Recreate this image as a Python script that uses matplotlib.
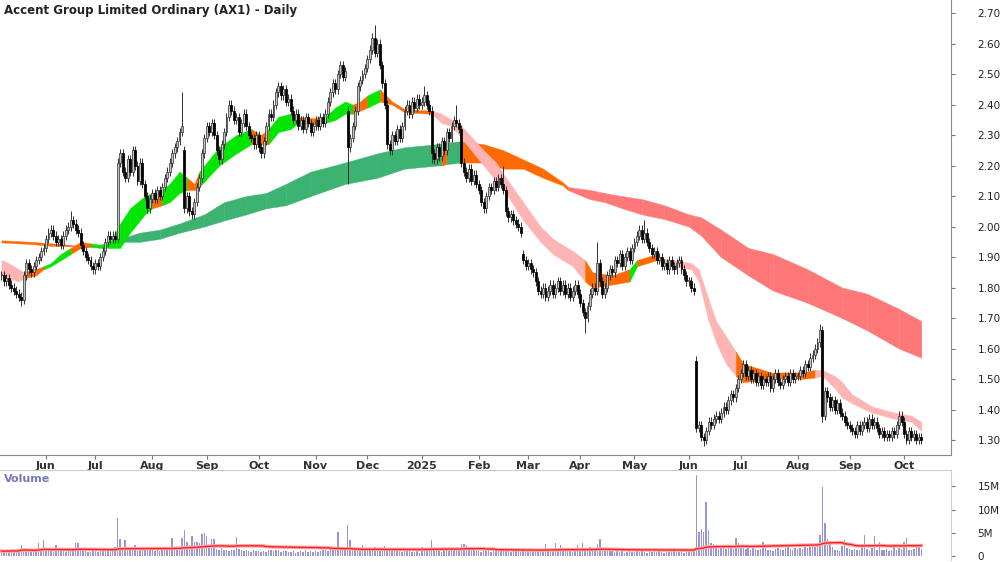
import numpy as np
import pandas as pd
import matplotlib
matplotlib.use('Agg')
import matplotlib.pyplot as plt

# trading days shown on the chart
dates = pd.bdate_range('2024-05-08', '2025-10-10')

# daily closes, one list per month
close_may24 = [1.84, 1.82, 1.83, 1.81, 1.80, 1.79, 1.78, 1.77, 1.76, 1.84, 1.88, 1.86, 1.85, 1.87, 1.89, 1.90, 1.92, 1.93]
close_jun24 = [1.96, 1.98, 1.99, 1.97, 1.95, 1.96, 1.94, 1.97, 1.99, 2.00, 2.02, 2.01, 1.99, 1.98, 1.94, 1.92, 1.90, 1.89, 1.87, 1.86]
close_jul24 = [1.88, 1.87, 1.90, 1.92, 1.95, 1.97, 1.96, 1.97, 1.96, 2.21, 2.24, 2.18, 2.16, 2.22, 2.18, 2.25, 2.20, 2.15, 2.21, 2.14, 2.10, 2.06, 2.09]
close_aug24 = [2.11, 2.09, 2.12, 2.10, 2.13, 2.16, 2.18, 2.21, 2.24, 2.26, 2.28, 2.31, 2.33, 2.06, 2.10, 2.05, 2.04, 2.08, 2.13, 2.16, 2.24, 2.29]
close_sep24 = [2.33, 2.31, 2.34, 2.30, 2.25, 2.22, 2.27, 2.31, 2.36, 2.40, 2.38, 2.35, 2.36, 2.31, 2.34, 2.37, 2.33, 2.30, 2.29, 2.27, 2.30]
close_oct24 = [2.26, 2.24, 2.28, 2.33, 2.37, 2.36, 2.40, 2.44, 2.46, 2.43, 2.45, 2.41, 2.42, 2.38, 2.35, 2.37, 2.33, 2.35, 2.32, 2.36, 2.34, 2.31, 2.33]
close_nov24 = [2.35, 2.33, 2.36, 2.34, 2.37, 2.41, 2.44, 2.47, 2.45, 2.50, 2.53, 2.49, 2.51, 2.26, 2.29, 2.33, 2.38, 2.46, 2.48, 2.50, 2.52]
close_dec24 = [2.55, 2.58, 2.62, 2.57, 2.60, 2.53, 2.47, 2.40, 2.27, 2.25, 2.30, 2.28, 2.32, 2.29, 2.33, 2.38, 2.40, 2.37, 2.41, 2.39, 2.42, 2.40]
close_jan25 = [2.41, 2.43, 2.40, 2.38, 2.24, 2.22, 2.26, 2.23, 2.28, 2.25, 2.31, 2.29, 2.33, 2.35, 2.34, 2.32, 2.21, 2.18, 2.16, 2.19, 2.15, 2.17, 2.14]
close_feb25 = [2.12, 2.08, 2.06, 2.10, 2.13, 2.12, 2.15, 2.13, 2.16, 2.14, 2.12, 2.05, 2.03, 2.04, 2.02, 2.01, 2.00, 1.98, 1.89, 1.87]
close_mar25 = [1.88, 1.86, 1.85, 1.82, 1.79, 1.78, 1.80, 1.77, 1.79, 1.81, 1.78, 1.80, 1.82, 1.79, 1.81, 1.78, 1.80, 1.77, 1.79, 1.81, 1.78]
close_apr25 = [1.75, 1.72, 1.70, 1.74, 1.78, 1.80, 1.79, 1.88, 1.82, 1.78, 1.80, 1.84, 1.86, 1.85, 1.89, 1.88, 1.91, 1.87, 1.90, 1.92, 1.89, 1.93]
close_may25 = [1.95, 1.97, 1.99, 1.96, 1.98, 1.95, 1.93, 1.91, 1.92, 1.89, 1.90, 1.87, 1.88, 1.86, 1.89, 1.87, 1.86, 1.88, 1.89, 1.86, 1.84, 1.82]
close_jun25 = [1.82, 1.80, 1.79, 1.34, 1.35, 1.31, 1.30, 1.33, 1.36, 1.35, 1.37, 1.38, 1.37, 1.39, 1.41, 1.40, 1.43, 1.45, 1.44, 1.47, 1.50]
close_jul25 = [1.52, 1.55, 1.51, 1.53, 1.50, 1.52, 1.49, 1.51, 1.48, 1.50, 1.49, 1.51, 1.47, 1.50, 1.52, 1.49, 1.48, 1.50, 1.51, 1.49, 1.52, 1.50, 1.51]
close_aug25 = [1.51, 1.53, 1.52, 1.55, 1.54, 1.57, 1.58, 1.60, 1.62, 1.66, 1.38, 1.46, 1.44, 1.41, 1.43, 1.40, 1.42, 1.39, 1.38, 1.36, 1.35]
close_sep25 = [1.34, 1.33, 1.32, 1.35, 1.33, 1.35, 1.36, 1.34, 1.37, 1.35, 1.36, 1.34, 1.32, 1.33, 1.31, 1.32, 1.31, 1.33, 1.32, 1.35, 1.38, 1.36]
close_oct25 = [1.32, 1.30, 1.33, 1.31, 1.32, 1.30, 1.31, 1.30]

# opening gaps and the longer wicks (bar number -> price)
gap_opens = {74: 2.25, 140: 2.38, 211: 1.91, 281: 1.56}
long_highs = {28: 2.05, 73: 2.44, 151: 2.66, 171: 2.46, 184: 2.40, 203: 2.20,
              241: 1.95, 260: 2.02, 331: 1.68}
long_lows = {8: 1.74, 140: 2.14, 174: 2.21, 236: 1.65, 284: 1.28, 332: 1.36}

# daily volume, millions of shares
vol_may24 = [1.1, 0.9, 1.2, 1.0, 1.3, 1.1, 0.9, 1.4, 2.4, 1.6, 1.2, 1.0, 1.1, 0.9, 1.3, 2.9, 1.2, 3.4]
vol_jun24 = [1.2, 1.0, 1.1, 0.9, 2.4, 1.3, 1.0, 1.2, 0.8, 1.8, 1.1, 1.0, 2.9, 2.9, 1.2, 1.4, 1.0, 0.8, 0.9, 1.1]
vol_jul24 = [1.0, 0.9, 1.2, 1.1, 1.3, 1.0, 0.9, 1.2, 2.0, 8.2, 3.6, 1.5, 3.4, 1.8, 1.2, 1.4, 2.3, 1.1, 1.9, 1.9, 1.8, 1.9, 1.3]
vol_aug24 = [1.2, 1.0, 1.3, 1.1, 1.4, 1.2, 1.5, 1.3, 3.8, 1.6, 1.4, 1.8, 3.9, 5.6, 3.1, 2.4, 4.4, 3.1, 3.1, 2.9, 4.8, 5.0]
vol_sep24 = [4.3, 1.8, 3.6, 3.6, 1.5, 1.3, 1.7, 1.2, 1.4, 1.1, 1.3, 1.2, 4.1, 1.5, 1.2, 1.0, 1.3, 1.1, 0.9, 1.2, 1.0]
vol_oct24 = [1.0, 0.8, 1.1, 0.9, 1.2, 1.3, 1.0, 1.4, 1.2, 0.9, 1.1, 1.0, 0.8, 0.9, 1.1, 0.7, 0.9, 1.0, 0.8, 1.2, 0.9, 1.0, 0.8]
vol_nov24 = [1.1, 0.9, 1.0, 1.2, 1.3, 1.1, 1.5, 1.2, 1.4, 5.2, 1.6, 1.3, 1.8, 6.6, 3.4, 1.5, 1.7, 1.3, 1.2, 2.4, 1.4]
vol_dec24 = [1.5, 1.3, 1.6, 2.0, 1.4, 1.2, 1.5, 2.1, 1.3, 1.1, 1.2, 1.0, 1.3, 1.1, 0.9, 1.2, 1.0, 1.1, 0.8, 0.9, 1.0, 0.7]
vol_jan25 = [2.0, 1.2, 1.0, 1.1, 3.4, 1.5, 1.2, 1.0, 0.9, 1.1, 1.3, 1.0, 1.2, 1.1, 1.4, 1.3, 2.5, 2.5, 2.4, 1.2, 1.5, 1.9, 1.1]
vol_feb25 = [1.1, 0.9, 1.8, 1.0, 1.2, 0.9, 1.1, 1.0, 1.3, 1.2, 1.4, 1.1, 1.0, 0.9, 1.2, 1.6, 1.1, 0.9, 1.3, 1.4]
vol_mar25 = [1.2, 0.9, 1.1, 1.3, 1.0, 1.4, 1.1, 2.6, 1.2, 1.3, 1.5, 2.9, 1.1, 2.3, 1.2, 1.0, 1.3, 1.1, 0.9, 1.2, 2.4]
vol_apr25 = [1.3, 2.9, 1.8, 1.2, 1.9, 1.0, 1.4, 2.6, 3.6, 1.5, 1.3, 1.1, 1.2, 1.0, 0.9, 1.1, 0.8, 1.0, 0.7, 0.9, 1.1, 0.8]
vol_may25 = [0.9, 1.0, 0.8, 1.1, 0.9, 0.7, 1.0, 0.8, 1.2, 0.9, 1.0, 0.8, 0.7, 0.9, 1.8, 1.0, 1.8, 0.9, 0.8, 1.0, 0.7, 1.1]
vol_jun25 = [1.1, 1.3, 1.6, 17.5, 5.2, 5.9, 5.2, 11.6, 5.7, 2.9, 2.6, 1.8, 1.6, 2.0, 1.7, 1.5, 1.9, 1.8, 1.6, 3.8, 2.9]
vol_jul25 = [1.7, 1.9, 1.5, 1.8, 1.4, 2.0, 1.6, 1.3, 1.5, 3.1, 1.7, 1.2, 1.4, 1.0, 1.6, 1.8, 1.5, 1.3, 1.7, 1.9, 1.6, 1.4, 1.8]
vol_aug25 = [1.6, 1.8, 1.5, 1.9, 1.7, 2.0, 2.2, 1.9, 2.4, 4.5, 14.8, 7.1, 3.7, 2.6, 2.0, 1.3, 1.2, 1.1, 2.2, 3.5, 1.8]
vol_sep25 = [1.5, 1.3, 1.6, 1.4, 1.2, 1.7, 4.6, 1.5, 1.1, 1.8, 4.3, 1.4, 3.1, 1.2, 1.3, 1.6, 1.1, 1.4, 2.6, 1.3, 1.8, 1.5]
vol_oct25 = [3.1, 3.9, 1.4, 1.2, 1.6, 2.4, 2.4, 1.5]

# short-term ribbon: bar number, upper / lower edge, colour state
short_pos = [0, 3, 7, 9, 14, 17, 20, 24, 28, 32, 36, 40, 44, 48, 52, 58, 61, 65, 68, 72,
             75, 78, 80, 88, 95, 101, 105, 108, 112, 117, 120, 126, 131, 135, 139, 142, 145, 148, 153, 158,
             163, 174, 178, 182, 186, 195, 200, 204, 211, 218, 223, 231, 236, 239, 247, 254, 257, 265, 268, 279,
             282, 286, 289, 293, 297, 300, 312, 323, 329, 332, 337, 340, 344, 352, 361, 368, 372]
short_top = [1.89, 1.88, 1.86, 1.85, 1.86, 1.87, 1.88, 1.91, 1.93, 1.95, 1.945, 1.94, 1.95, 2.01, 2.06, 2.10, 2.11, 2.12, 2.14, 2.18,
             2.16, 2.14, 2.18, 2.26, 2.30, 2.32, 2.30, 2.32, 2.36, 2.37, 2.36, 2.355, 2.36, 2.39, 2.41, 2.40, 2.41, 2.43, 2.45, 2.41,
             2.385, 2.38, 2.37, 2.35, 2.33, 2.25, 2.21, 2.16, 2.08, 2.00, 1.96, 1.92, 1.89, 1.85, 1.84, 1.86, 1.89, 1.91, 1.895, 1.88,
             1.86, 1.76, 1.69, 1.64, 1.59, 1.55, 1.52, 1.52, 1.53, 1.53, 1.51, 1.49, 1.45, 1.41, 1.39, 1.38, 1.36]
short_bot = [1.84, 1.83, 1.82, 1.83, 1.84, 1.86, 1.87, 1.89, 1.91, 1.93, 1.935, 1.93, 1.93, 1.93, 1.98, 2.04, 2.06, 2.07, 2.08, 2.11,
             2.12, 2.12, 2.13, 2.20, 2.24, 2.27, 2.27, 2.27, 2.31, 2.32, 2.34, 2.335, 2.34, 2.35, 2.37, 2.37, 2.38, 2.39, 2.41, 2.40,
             2.375, 2.37, 2.34, 2.33, 2.29, 2.20, 2.15, 2.11, 2.02, 1.95, 1.91, 1.87, 1.82, 1.80, 1.81, 1.82, 1.87, 1.89, 1.875, 1.86,
             1.82, 1.69, 1.62, 1.55, 1.51, 1.49, 1.50, 1.50, 1.505, 1.51, 1.47, 1.44, 1.42, 1.39, 1.37, 1.36, 1.33]
short_state = "pppoogggooggggggoggg" + "oogggoogggoogggoogoo" + "opppppppppppooogoppp" + "ppppoooopppppppp"

# long-term ribbon
long_pos = [0, 12, 20, 28, 38, 42, 48, 56, 64, 72, 82, 90, 99, 107, 115, 125, 139, 152, 163, 176,
            178, 180, 186, 195, 203, 211, 219, 227, 229, 238, 244, 251, 259, 268, 278, 283, 291, 302, 312, 326,
            340, 350, 363, 372]
long_top = [1.955, 1.95, 1.945, 1.94, 1.937, 1.945, 1.96, 1.98, 1.99, 2.01, 2.04, 2.08, 2.10, 2.11, 2.14, 2.18, 2.21, 2.24, 2.26, 2.27,
            2.27, 2.275, 2.28, 2.27, 2.25, 2.22, 2.19, 2.145, 2.13, 2.12, 2.11, 2.10, 2.09, 2.07, 2.04, 2.03, 1.99, 1.93, 1.91, 1.86,
            1.80, 1.78, 1.73, 1.69]
long_bot = [1.948, 1.943, 1.937, 1.935, 1.932, 1.935, 1.95, 1.95, 1.96, 1.98, 2.00, 2.02, 2.04, 2.06, 2.07, 2.10, 2.14, 2.16, 2.19, 2.20,
            2.20, 2.205, 2.21, 2.21, 2.19, 2.19, 2.16, 2.135, 2.12, 2.09, 2.08, 2.06, 2.04, 2.025, 2.00, 1.97, 1.90, 1.84, 1.79, 1.75,
            1.70, 1.66, 1.60, 1.57]
long_state = "ooorrggggggggggggggg" + "ogoooooorrrrrrrrrrrr" + "rrrr"

close = np.array(close_may24 + close_jun24 + close_jul24 + close_aug24 + close_sep24 + close_oct24
                 + close_nov24 + close_dec24 + close_jan25 + close_feb25 + close_mar25 + close_apr25
                 + close_may25 + close_jun25 + close_jul25 + close_aug25 + close_sep25 + close_oct25)
volume = np.array(vol_may24 + vol_jun24 + vol_jul24 + vol_aug24 + vol_sep24 + vol_oct24
                  + vol_nov24 + vol_dec24 + vol_jan25 + vol_feb25 + vol_mar25 + vol_apr25
                  + vol_may25 + vol_jun25 + vol_jul25 + vol_aug25 + vol_sep25 + vol_oct25)
n = len(close)
x = np.arange(n)

opens = np.r_[close[0], close[:-1]]
for k, v in gap_opens.items():
    opens[k] = v
body_hi = np.maximum(opens, close)
body_lo = np.minimum(opens, close)
highs = body_hi + 0.014
lows = body_lo - 0.014
for k, v in long_highs.items():
    highs[k] = v
for k, v in long_lows.items():
    lows[k] = v

palette = {'g': '#00e600', 'o': '#ff6a00', 'p': '#ffb4b4',
           'G': '#3cb371', 'r': '#ff7878'}

fig = plt.figure(figsize=(10, 5.62), dpi=100)
ax = fig.add_axes([0.0, 0.1904, 0.951, 0.8096])
axv = fig.add_axes([0.0, 0.0036, 0.951, 0.1601], sharex=ax)


def draw_band(axis, pos, top, bot, state, colors):
    for k in range(len(pos) - 1):
        c = colors[state[k]]
        axis.fill_between(pos[k:k + 2], top[k:k + 2], bot[k:k + 2],
                          color=c, lw=0.3, ec=c, zorder=1)


draw_band(ax, long_pos, long_top, long_bot, long_state,
          {'g': palette['G'], 'o': palette['o'], 'r': palette['r']})
draw_band(ax, short_pos, short_top, short_bot, short_state,
          {'g': palette['g'], 'o': palette['o'], 'p': palette['p']})

# candles
up = close >= opens
height = np.maximum(body_hi - body_lo, 0.004)
ax.vlines(x, lows, highs, color='#303030', lw=0.7, zorder=2)
ax.bar(x[up], height[up], bottom=body_lo[up], width=0.78,
       color='#c4c4c4', edgecolor='#3a3a3a', linewidth=0.55, zorder=3)
ax.bar(x[~up], height[~up], bottom=body_lo[~up], width=0.78,
       color='black', edgecolor='black', linewidth=0.55, zorder=3)

ax.set_xlim(-0.6, 384)
ax.set_ylim(1.251, 2.743)

ax.yaxis.tick_right()
ticks = np.round(np.arange(1.3, 2.701, 0.1), 2)
ax.set_yticks(ticks)
ax.set_yticklabels(['%.2f' % t for t in ticks], fontsize=7.5, color='#222222')
ax.tick_params(axis='y', length=3, pad=16, color='#777777')

month_first = [i for i in range(n) if i == 0 or dates[i].month != dates[i - 1].month][1:]
month_lbl = ['2025' if dates[i].month == 1 else dates[i].strftime('%b') for i in month_first]
ax.set_xticks(month_first)
ax.set_xticklabels(month_lbl, fontsize=8, fontweight='bold', color='#333333')
ax.tick_params(axis='x', length=3, pad=1, color='#777777')

for s in ['top', 'left']:
    ax.spines[s].set_visible(False)
for s in ['right', 'bottom']:
    ax.spines[s].set_color('#888888')

ax.text(0.004, 0.992, 'Accent Group Limited Ordinary (AX1) - Daily', transform=ax.transAxes,
        fontsize=8.5, fontweight='bold', color='#222222', va='top', ha='left')

# volume panel
axv.bar(x, volume, width=0.6, color='#9595d8', zorder=2)
vol_ma = pd.Series(volume).rolling(60, min_periods=1).mean()
axv.plot(x, vol_ma, color='#ffa8a8', lw=2.6, zorder=3)
axv.plot(x, vol_ma, color='#ff2020', lw=1.0, zorder=4)
axv.set_ylim(-0.85, 18.5)
axv.yaxis.tick_right()
axv.set_yticks([0, 5, 10, 15])
axv.set_yticklabels(['0', '5M', '10M', '15M'], fontsize=7.5, color='#222222')
axv.tick_params(axis='y', length=3, pad=16, color='#777777')
axv.tick_params(axis='x', bottom=False, labelbottom=False)
for s in ['bottom', 'left']:
    axv.spines[s].set_visible(False)
for s in ['top', 'right']:
    axv.spines[s].set_color('#cccccc')
axv.text(0.004, 0.96, 'Volume', transform=axv.transAxes, fontsize=8, fontweight='bold',
         color='#7777bb', va='top', ha='left')

fig.savefig('out.png', dpi=100)
